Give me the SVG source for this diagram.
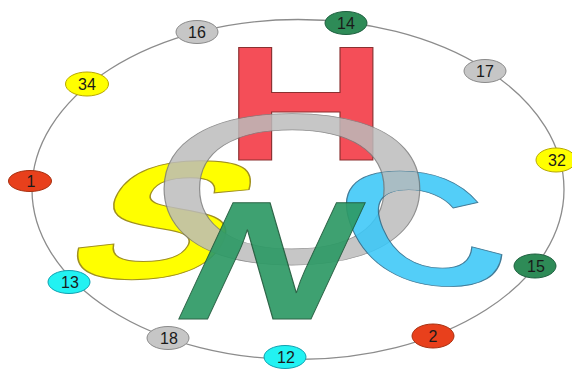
<svg xmlns="http://www.w3.org/2000/svg" width="572" height="371" viewBox="0 0 572 371">
<style>
.ring{fill:none;stroke:#8c8c8c;stroke-width:1.3}
.nd ellipse{stroke-width:1}
.nd text{font-family:"Liberation Sans",Arial,sans-serif;font-size:16px;fill:#1a1a1a;text-anchor:middle}
.gray{fill:#c6c6c6;stroke:#8a8a8a}
.yel{fill:#ffff00;stroke:#b8a800}
.red{fill:#e8401c;stroke:#a83010}
.grn{fill:#2e8b57;stroke:#1f6040}
.cyn{fill:#22f2f2;stroke:#10a0b0}
.big{font-family:"Liberation Sans",Arial,sans-serif;text-anchor:middle}
.bold{font-weight:bold}
</style>
<defs>
<clipPath id="cclip"><text class="big bold" font-size="163" transform="translate(444,285) skewX(23) scale(1.3,1)">C</text></clipPath>
<clipPath id="rclip"><rect x="360" y="163" width="80" height="38"/></clipPath>
</defs>
<g id="connectors">
<ellipse class="ring" cx="298" cy="189.5" rx="266" ry="170"/>
</g>
<g id="letters">
<text id="H" class="big bold" font-size="163" fill="#f44e58" stroke="#8a3030" stroke-width="1" vector-effect="non-scaling-stroke" transform="translate(306,160) scale(1.4,1)">H</text>
<text id="S" class="big bold" font-size="168" fill="#ffff00" stroke="#a09020" stroke-width="1" transform="translate(133,278) skewX(-30) scale(1.4,1)">S</text>
<text id="O" class="big" font-size="214" fill="#bcbcbc" stroke="#7a7a7a" stroke-width="0.7" opacity="0.84" transform="translate(292,263) scale(1.75,1)">O</text>
<text id="C" class="big bold" font-size="163" fill="#3cc8f8" stroke="#2a6a8a" stroke-width="0.9" opacity="0.88" transform="translate(444,285) skewX(23) scale(1.3,1)">C</text>
<g clip-path="url(#rclip)"><g clip-path="url(#cclip)">
<text class="big" font-size="214" fill="#bcbcbc" stroke="#7a7a7a" stroke-width="0.7" opacity="0.84" transform="translate(292,263) scale(1.75,1)">O</text>
</g></g>
<text id="N" class="big bold" font-size="169" fill="#2e9a66" stroke="#1e5a3a" stroke-width="0.8" opacity="0.92" transform="translate(245,319) skewX(-25) scale(1.33,1)">N</text>
</g>
<g id="n16" class="nd"><ellipse class="gray" cx="197" cy="32" rx="21" ry="11.5"/><text x="197" y="38">16</text></g>
<g id="n14" class="nd"><ellipse class="grn" cx="346" cy="23" rx="21" ry="11.5"/><text x="346" y="29">14</text></g>
<g id="n17" class="nd"><ellipse class="gray" cx="485" cy="71" rx="21" ry="11.5"/><text x="485" y="77">17</text></g>
<g id="n32" class="nd"><ellipse class="yel" cx="556" cy="160" rx="20" ry="12"/><text x="557" y="166">32</text></g>
<g id="n15" class="nd"><ellipse class="grn" cx="535" cy="266" rx="21" ry="12"/><text x="536" y="272">15</text></g>
<g id="n2" class="nd"><ellipse class="red" cx="433" cy="336" rx="21" ry="12"/><text x="433" y="342">2</text></g>
<g id="n12" class="nd"><ellipse class="cyn" cx="285" cy="357" rx="21" ry="11.5"/><text x="286" y="363">12</text></g>
<g id="n18" class="nd"><ellipse class="gray" cx="168" cy="338" rx="21" ry="11.5"/><text x="169" y="344">18</text></g>
<g id="n13" class="nd"><ellipse class="cyn" cx="69" cy="282" rx="21" ry="11.5"/><text x="70" y="288">13</text></g>
<g id="n1" class="nd"><ellipse class="red" cx="30" cy="181" rx="21.5" ry="10.5"/><text x="31" y="187">1</text></g>
<g id="n34" class="nd"><ellipse class="yel" cx="87" cy="84" rx="21.5" ry="12"/><text x="87" y="90">34</text></g>
</svg>
